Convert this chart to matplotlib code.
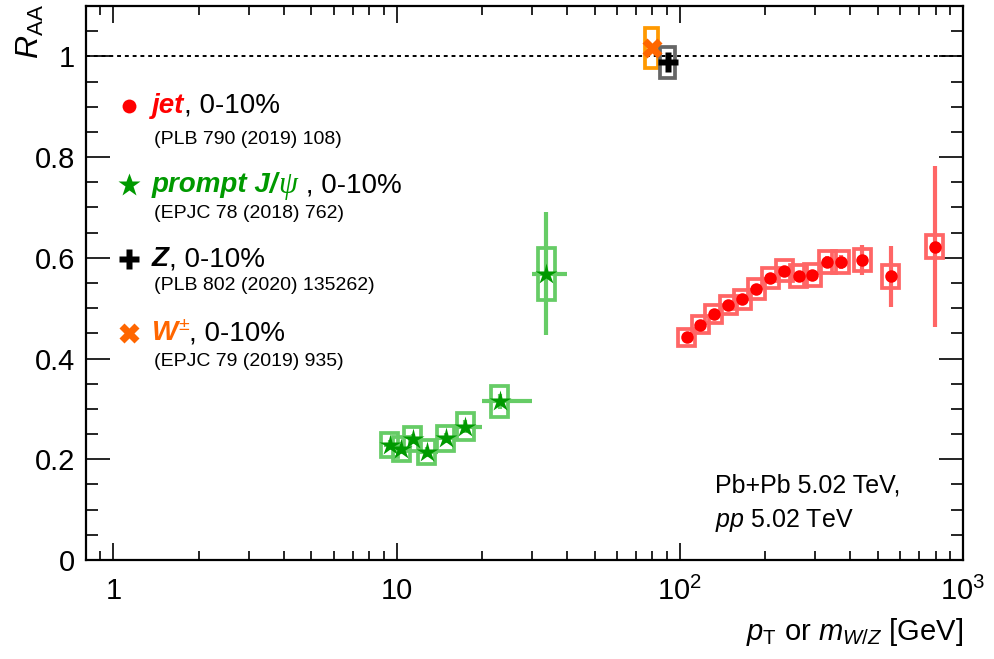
import numpy as np
import matplotlib
matplotlib.use("Agg")
import matplotlib.pyplot as plt
from matplotlib.patches import Rectangle
from matplotlib.transforms import IdentityTransform
from matplotlib.ticker import FixedLocator, FuncFormatter, MultipleLocator

plt.rcParams['font.family'] = ['Liberation Sans', 'DejaVu Sans']
plt.rcParams['mathtext.fontset'] = 'custom'
plt.rcParams['mathtext.rm'] = 'Liberation Sans'
plt.rcParams['mathtext.it'] = 'Liberation Sans:italic'
plt.rcParams['mathtext.bf'] = 'Liberation Sans:bold'

# jets, PLB 790 (2019) 108
jet_pt = [106, 118, 132, 148, 166, 186, 209, 234, 263, 294, 331, 370, 441, 555, 795]
jet_raa = [0.442, 0.467, 0.489, 0.506, 0.518, 0.538, 0.560, 0.574, 0.564, 0.566,
           0.592, 0.592, 0.595, 0.563, 0.622]
jet_stat = [0.005, 0.005, 0.005, 0.005, 0.005, 0.005, 0.006, 0.007, 0.008, 0.010,
            0.012, 0.014, 0.030, 0.060, 0.160]
jet_sys = [0.017, 0.017, 0.018, 0.018, 0.019, 0.019, 0.020, 0.021, 0.021, 0.021,
           0.022, 0.022, 0.022, 0.023, 0.023]

# prompt J/psi, EPJC 78 (2018) 762
jpsi_pt = [9.47, 10.4, 11.4, 12.8, 14.9, 17.5, 23.1, 33.7]
jpsi_lo = [9, 10, 11, 12, 14, 16, 20, 30]
jpsi_hi = [10, 11, 12, 14, 16, 20, 30, 40]
jpsi_raa = [0.229, 0.220, 0.240, 0.215, 0.242, 0.265, 0.315, 0.568]
jpsi_stat = [0.010, 0.010, 0.010, 0.010, 0.010, 0.012, 0.015, 0.122]
jpsi_sys = [0.024, 0.024, 0.024, 0.024, 0.025, 0.026, 0.031, 0.052]

# Z and W
z_m = [90.5]
z_raa = [0.988]
z_sys = [0.031]
w_m = [79.7]
w_raa = [1.017]
w_sys = [0.040]

fig = plt.figure(figsize=(9.95, 6.59), dpi=100)
ax = fig.add_axes([86 / 995, 99 / 659, 877 / 995, 554 / 659])


def boxes(x, y, s, color, hw=0.03):
    for xi, yi, si in zip(x, y, s):
        x0 = xi * 10 ** (-hw)
        x1 = xi * 10 ** hw
        ax.add_patch(Rectangle((x0, yi - si), x1 - x0, 2 * si, fill=False,
                               ec=color, lw=2.7, zorder=3))


ax.axhline(1, color='k', lw=1.4, ls=(0, (2, 2)), zorder=1)

# jets
boxes(jet_pt, jet_raa, jet_sys, '#ff6666')
ax.errorbar(jet_pt, jet_raa, yerr=jet_stat, fmt='none', ecolor='#ff6666',
            elinewidth=3, capsize=0, zorder=2)
ax.plot(jet_pt, jet_raa, 'o', color='#ff0000', ms=9, mec='none', zorder=5)

# J/psi
jx = np.array(jpsi_pt)
xerr = [jx - np.array(jpsi_lo), np.array(jpsi_hi) - jx]
boxes(jpsi_pt, jpsi_raa, jpsi_sys, '#66cc66')
ax.errorbar(jpsi_pt, jpsi_raa, yerr=jpsi_stat, xerr=xerr, fmt='none',
            ecolor='#66cc66', elinewidth=3, capsize=0, zorder=2)
ax.plot(jpsi_pt, jpsi_raa, '*', color='#009900', ms=16, mec='none', zorder=5)

# W and Z
boxes(w_m, w_raa, w_sys, '#ff9900', hw=0.023)
ax.plot(w_m, w_raa, 'X', color='#ff6600', ms=14, mec='none', zorder=5)
boxes(z_m, z_raa, z_sys, '#666666', hw=0.025)
ax.plot(z_m, z_raa, 'P', color='k', ms=14, mec='none', zorder=6)

ax.set_xscale('log')
ax.set_xlim(0.8, 1000)
ax.set_ylim(0, 1.1)

ax.yaxis.set_major_locator(MultipleLocator(0.2))
ax.yaxis.set_minor_locator(MultipleLocator(0.05))
ax.yaxis.set_major_formatter(FuncFormatter(lambda v, p: '%g' % round(v, 3)))


def xfmt(v, p):
    if abs(v - 1) < 1e-6:
        return '1'
    if abs(v - 10) < 1e-6:
        return '10'
    return r'$10^{%d}$' % round(np.log10(v))


ax.xaxis.set_major_locator(FixedLocator([1, 10, 100, 1000]))
ax.xaxis.set_major_formatter(FuncFormatter(xfmt))

ax.tick_params(which='both', direction='in', top=True, right=True, labelsize=21,
               width=1.2)
ax.tick_params(axis='x', which='major', length=12, pad=12)
ax.tick_params(axis='x', which='minor', length=6.5)
ax.tick_params(axis='y', which='major', length=17, pad=8)
ax.tick_params(axis='y', which='minor', length=8.6)
for sp in ax.spines.values():
    sp.set_linewidth(1.6)

fig.text(963 / 995, 1 - 632 / 659, r'$p_{\rm T}$ or $m_{W/Z}$ [GeV]', fontsize=21,
         ha='right', va='center')
fig.text(30 / 995, 1 - 4 / 659, r'$R_{\rm AA}$', fontsize=23, rotation=90,
         ha='center', va='top')

fig.text(715 / 995, 1 - 485 / 659, 'Pb+Pb 5.02 TeV,', fontsize=18, va='center')
fig.text(715 / 995, 1 - 520 / 659, r'$pp$ 5.02 TeV', fontsize=18, va='center')

# legend, drawn piece by piece
fig.canvas.draw()
renderer = fig.canvas.get_renderer()
H = 659


def line(x, y, parts):
    for s, kw in parts:
        t = fig.text(x, H - y, s, transform=IdentityTransform(), va='center', **kw)
        x += t.get_window_extent(renderer).width
    return x


bi = dict(fontsize=20, fontweight='bold', style='italic')
nm = dict(fontsize=20)
sm = dict(fontsize=14)

leg = [
    ('o', '#ff0000', 10, 106, [('jet', dict(bi, color='#ff0000')), (', 0-10%', nm)],
     '(PLB 790 (2019) 108)', 140),
    ('*', '#009900', 17, 185, [('prompt J/', dict(bi, color='#009900')),
                               ('\u03c8', dict(fontsize=22, color='#009900',
                                               style='italic',
                                               family='Liberation Serif')),
                               (' , 0-10%', nm)],
     '(EPJC 78 (2018) 762)', 214),
    ('P', 'k', 15, 259, [('Z', dict(bi, color='k')), (', 0-10%', nm)],
     '(PLB 802 (2020) 135262)', 286),
    ('X', '#ff6600', 14, 333, [('W', dict(bi, color='#ff6600'))],
     '(EPJC 79 (2019) 935)', 362),
]
for mk, col, ms, y, parts, ref, yr in leg:
    fig.lines.append(plt.Line2D([129], [H - y], marker=mk, color=col, ms=ms,
                                mec='none', ls='none',
                                transform=IdentityTransform(), figure=fig))
    x = line(152, y, parts)
    if mk == 'X':
        t2 = fig.text(x, H - y + 8, '\u00b1', transform=IdentityTransform(),
                      va='center', fontsize=14, color='#ff6600', style='italic')
        x += t2.get_window_extent(renderer).width
        fig.text(x, H - y, ', 0-10%', transform=IdentityTransform(), va='center', **nm)
    fig.text(154, H - yr, ref, transform=IdentityTransform(), va='center', **sm)

fig.savefig('out.png', dpi=100)
